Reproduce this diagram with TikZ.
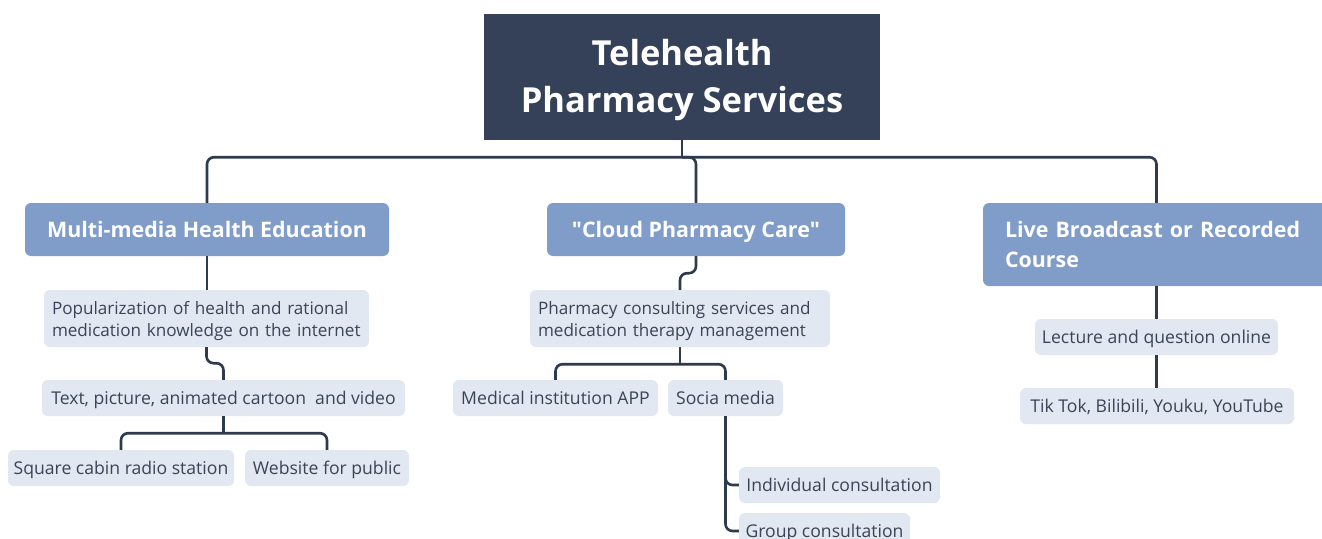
\documentclass[tikz,border=0pt]{standalone}
\usepackage{fontspec}
\setmainfont{Open Sans}
\usetikzlibrary{calc}
\definecolor{rootc}{HTML}{344158}
\definecolor{lvone}{HTML}{7F9DC8}
\definecolor{lvtwo}{HTML}{E1E8F1}
\definecolor{txtc}{HTML}{3A4456}
\definecolor{linec}{HTML}{2E3A4E}
\begin{document}
\begin{tikzpicture}[x=1pt,y=-1pt,
  rootbox/.style={fill=rootc,text=white,font=\fontsize{34.5}{47}\selectfont\bfseries,align=center,inner sep=0pt},
  onebox/.style={fill=lvone,text=white,rounded corners=6pt,font=\fontsize{21.4}{30}\selectfont\bfseries,inner sep=0pt},
  twobox/.style={fill=lvtwo,text=txtc,rounded corners=6pt,font=\fontsize{17.6}{22}\selectfont,inner sep=0pt},
  twolines/.style={font=\fontsize{17.1}{22}\selectfont,align=left,inner xsep=8pt},
  onelineA/.style={text height=16.3pt,text depth=0pt},
  onelineB/.style={text height=13.4pt,text depth=0pt},
  conn/.style={draw=linec,line width=2.6pt,rounded corners=7pt}]
\useasboundingbox (0,0) rectangle (1322,538);
\fill[white] (0,0) rectangle (1322,538);
% root
\node[rootbox,minimum width=396pt,minimum height=126pt] (root) at (682,77) {\rule{0pt}{32pt}Telehealth\\Pharmacy Services};
% level one
\node[onebox,onelineA,minimum width=364pt,minimum height=53pt] (multi) at (207,229.5) {Multi-media Health Education};
\node[onebox,onelineA,minimum width=298pt,minimum height=53pt] (cloud) at (696,229.5) {\textquotedbl Cloud Pharmacy Care\textquotedbl};
\node[onebox,minimum width=357pt,minimum height=83pt,text width=313pt,inner xsep=22pt,align=left] (live) at (1161.5,244.5) {\mbox{Live Broadcast or Recorded}\\Course};
% level two - left
\node[twobox,twolines,minimum width=325pt,minimum height=57pt,text width=309pt] (pop) at (206.5,318.5) {\mbox{\rule{0pt}{19pt}Popularization of health and rational}\\\mbox{medication knowledge on the internet}};
\node[twobox,onelineB,minimum width=363pt,minimum height=36pt] (tp) at (223.5,398) {Text, picture, animated cartoon\ \ and video};
\node[twobox,onelineB,minimum width=226pt,minimum height=36pt] (sq) at (121,468) {Square cabin radio station};
\node[twobox,onelineB,minimum width=164pt,minimum height=36pt] (web) at (327,468) {Website for public};
% middle
\node[twobox,twolines,minimum width=300pt,minimum height=57pt,text width=284pt] (pc) at (680,318.5) {\mbox{\rule{0pt}{19pt}Pharmacy consulting services and}\\\mbox{medication therapy management}};
\node[twobox,onelineB,minimum width=205pt,minimum height=36pt] (med) at (555.5,398) {Medical institution APP};
\node[twobox,onelineB,minimum width=115pt,minimum height=36pt] (soc) at (725.5,398) {Socia media};
\node[twobox,onelineB,minimum width=201pt,minimum height=36pt] (ind) at (839.5,485) {Individual consultation};
\node[twobox,onelineB,minimum width=171pt,minimum height=36pt] (grp) at (824.5,531) {Group consultation};
% right
\node[twobox,onelineB,minimum width=243pt,minimum height=36pt] (lec) at (1156.5,337) {Lecture and question online};
\node[twobox,onelineB,minimum width=274pt,minimum height=36pt] (tt) at (1157,406) {Tik Tok, Bilibili, Youku, YouTube};
% connectors
\coordinate (hb) at ($(root.south)+(0,17)$);
\coordinate (livetop) at (lec.north |- live.north);
\draw[conn,rounded corners=0pt] (root.south) -- (hb);
\draw[conn] (multi.north) |- (hb) -| (livetop);
\draw[conn] (hb) -| (cloud.north);
\draw[conn] (multi.south) -- (multi.south |- pop.north);
\draw[conn] (pop.south) -- ++(0,16) -| (tp.north);
\coordinate (j1) at ($(tp.south)+(0,17)$);
\draw[conn] (tp.south) -- (j1);
\draw[conn] (sq.north) |- (j1) -| (web.north);
\draw[conn] (cloud.south) -- ++(0,17) -| (pc.north);
\coordinate (j2) at ($(pc.south)+(0,17)$);
\draw[conn] (pc.south) -- (j2);
\draw[conn] (med.north) |- (j2) -| (soc.north);
\draw[conn] (soc.south) |- (grp.west);
\draw[conn] (soc.south) |- (ind.west);
\draw[conn] (lec.north |- live.south) -- (lec.north);
\draw[conn] (lec.south) -- (lec.south |- tt.north);
\end{tikzpicture}
\end{document}
